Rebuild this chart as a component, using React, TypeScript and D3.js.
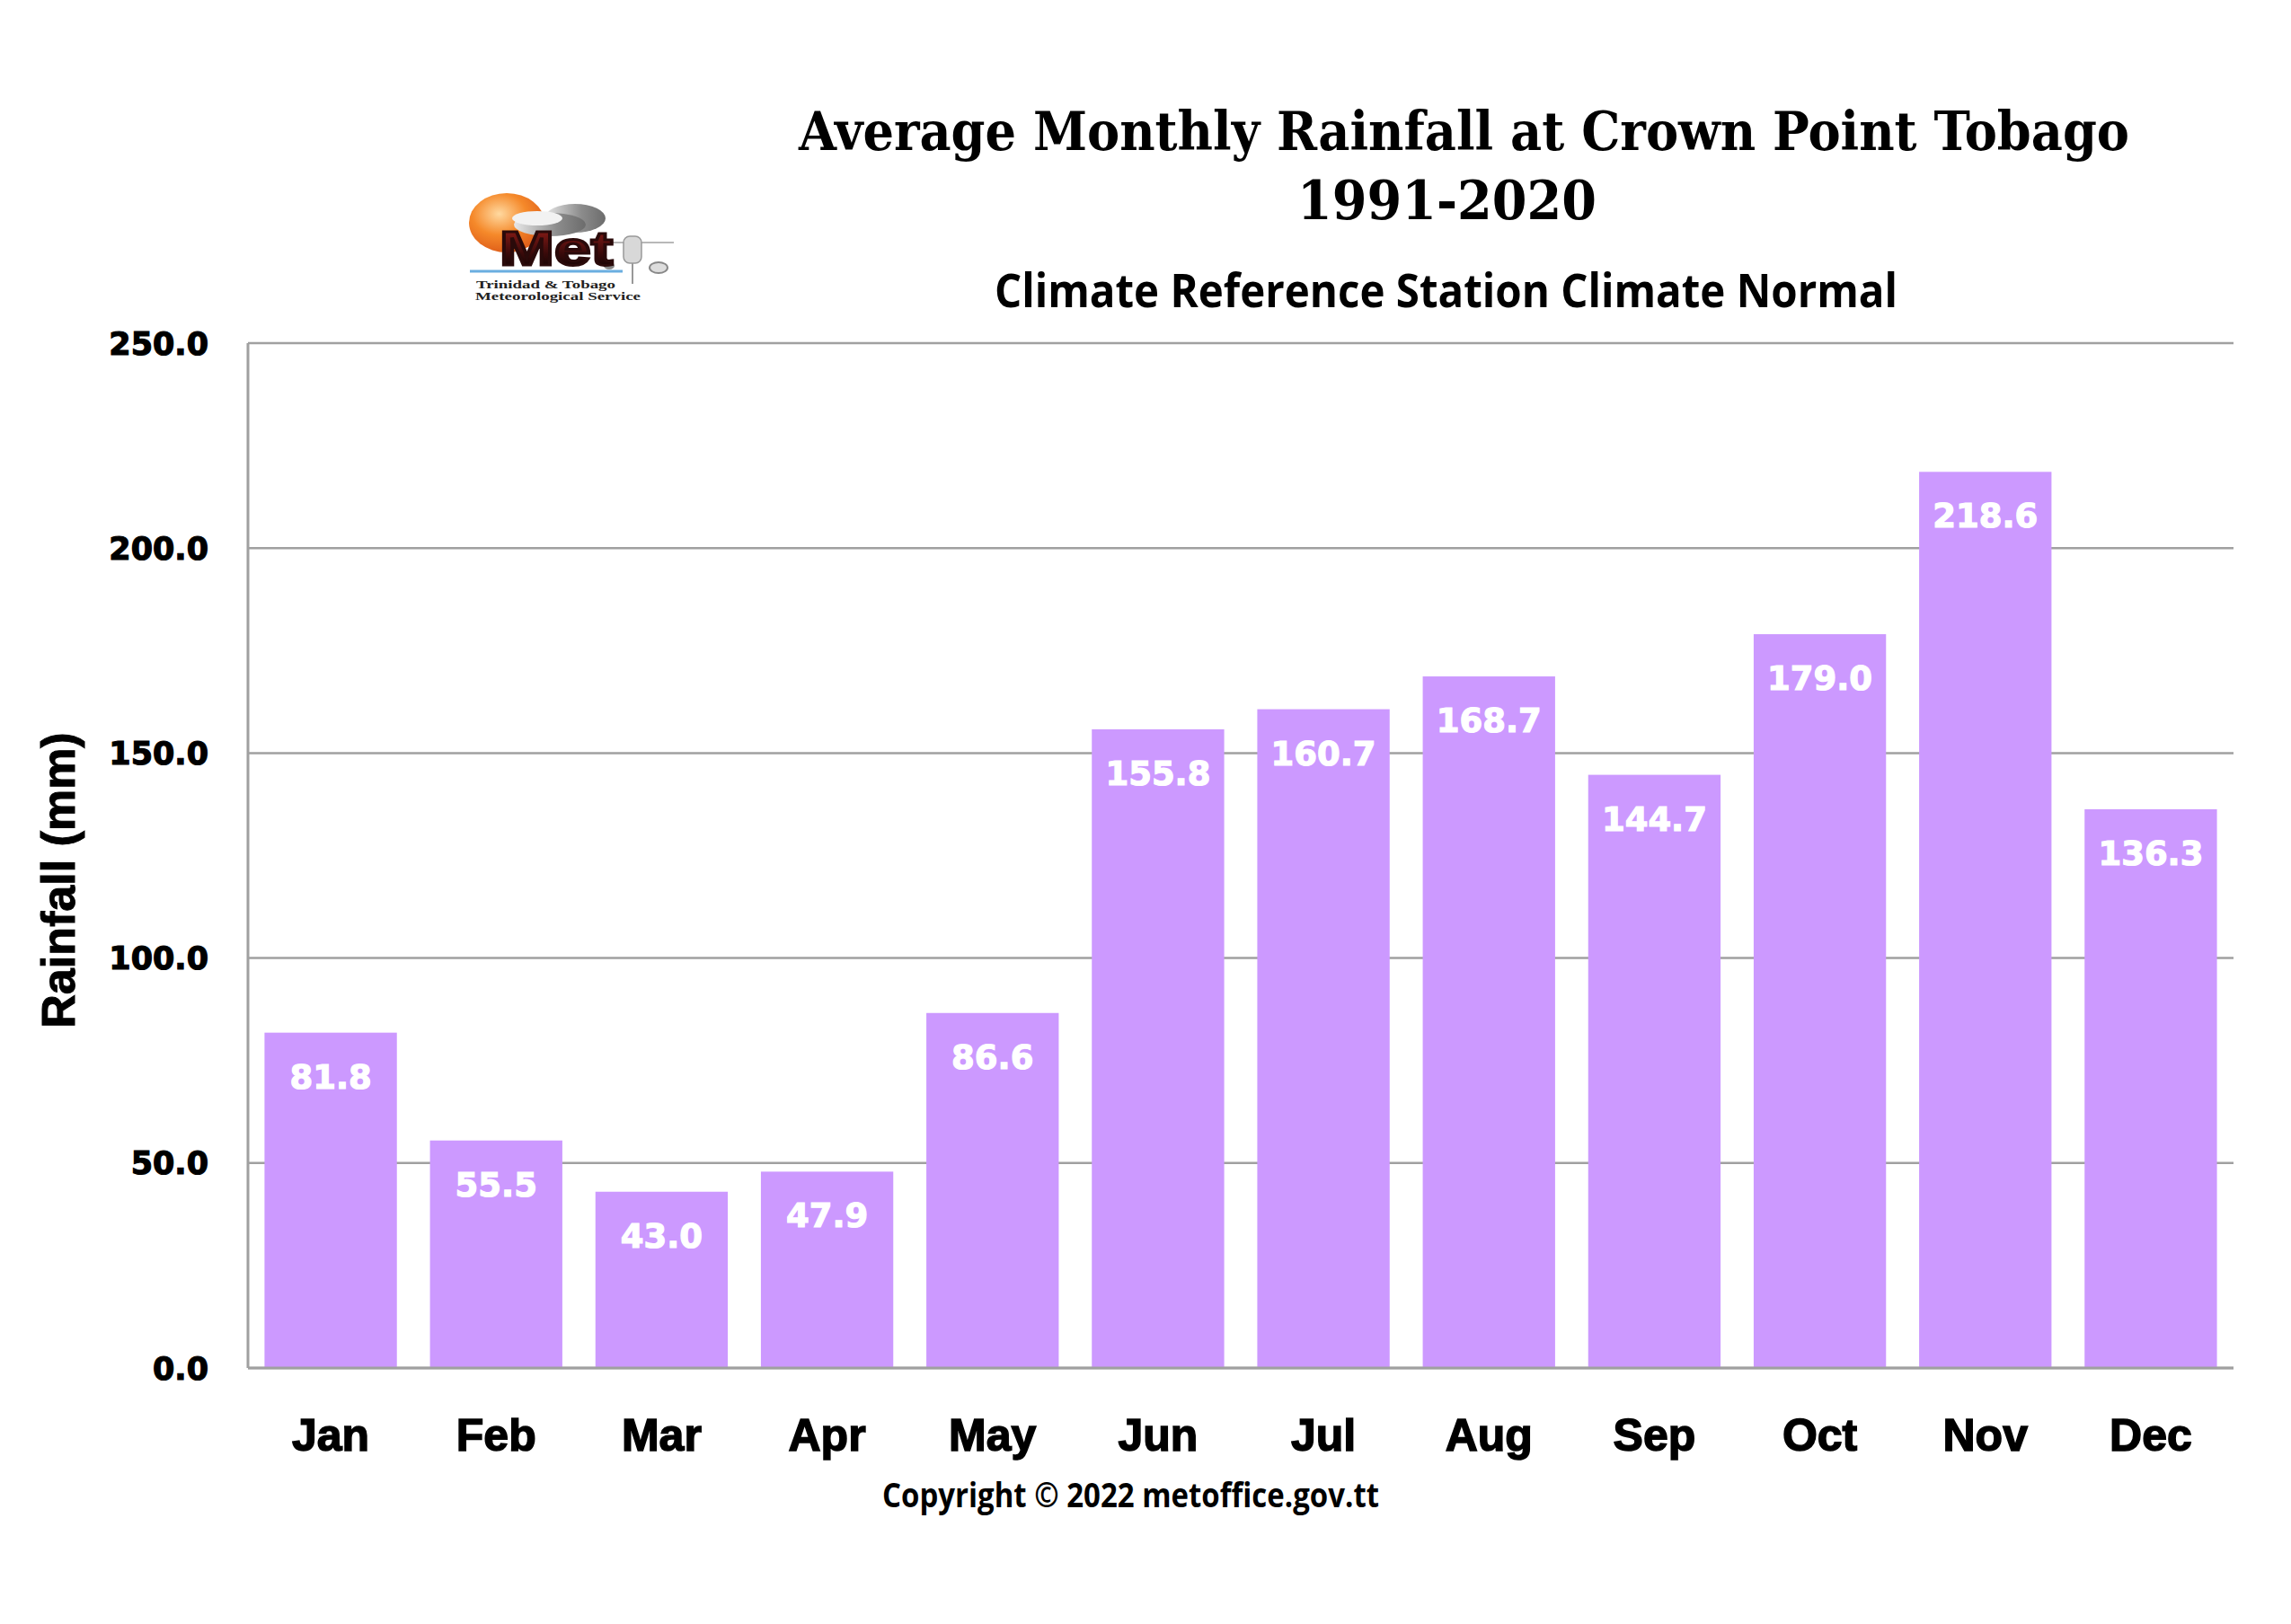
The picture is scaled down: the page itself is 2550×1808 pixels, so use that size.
import { useEffect, useRef } from 'react';
import * as d3 from 'd3';

const MONTHS = ['Jan', 'Feb', 'Mar', 'Apr', 'May', 'Jun', 'Jul', 'Aug', 'Sep', 'Oct', 'Nov', 'Dec'];
const RAINFALL = [81.8, 55.5, 43.0, 47.9, 86.6, 155.8, 160.7, 168.7, 144.7, 179.0, 218.6, 136.3];
const Y_TICKS = [0, 50, 100, 150, 200, 250];

const TITLE = 'Average Monthly Rainfall at Crown Point Tobago';
const PERIOD = '1991-2020';
const SUBTITLE = 'Climate Reference Station Climate  Normal';
const COPYRIGHT = 'Copyright \u00a9 2022 metoffice.gov.tt';

const BAR_COLOR = '#cc99ff';
const GRID_COLOR = '#a0a0a0';

export default function App() {
  const svgRef = useRef<SVGSVGElement>(null);

  useEffect(() => {
    if (!svgRef.current) return;

    const width = 2550;
    const height = 1808;
    const margin = { top: 382, right: 64, bottom: 285, left: 276 };
    const innerWidth = width - margin.left - margin.right;
    const innerHeight = height - margin.top - margin.bottom;

    const svg = d3.select(svgRef.current);
    svg.selectAll('*').remove();
    svg.attr('width', width).attr('height', height);

    svg.append('rect').attr('width', width).attr('height', height).attr('fill', '#ffffff');

    const x = d3.scaleBand()
      .domain(MONTHS)
      .range([0, innerWidth])
      .paddingInner(0.2)
      .paddingOuter(0.1);

    const y = d3.scaleLinear()
      .domain([0, 250])
      .range([innerHeight, 0]);

    const g = svg.append('g')
      .attr('transform', `translate(${margin.left}, ${margin.top})`);

    // Gridlines
    g.selectAll('.grid')
      .data(Y_TICKS)
      .enter()
      .append('line')
      .attr('x1', 0)
      .attr('x2', innerWidth)
      .attr('y1', d => y(d))
      .attr('y2', d => y(d))
      .attr('stroke', GRID_COLOR)
      .attr('stroke-width', 2.5);

    // Y axis line
    g.append('line')
      .attr('x1', 0)
      .attr('x2', 0)
      .attr('y1', 0)
      .attr('y2', innerHeight)
      .attr('stroke', GRID_COLOR)
      .attr('stroke-width', 3);

    // Y tick labels
    g.selectAll('.ytick')
      .data(Y_TICKS)
      .enter()
      .append('text')
      .attr('x', -44)
      .attr('y', d => y(d))
      .attr('dy', '0.36em')
      .attr('text-anchor', 'end')
      .attr('font-family', '"DejaVu Sans", sans-serif')
      .attr('font-weight', 'bold')
      .attr('font-size', '35px')
      .attr('fill', '#000')
      .attr('stroke', '#000')
      .attr('stroke-width', 1.2)
      .text(d => d.toFixed(1));

    const data = MONTHS.map((m, i) => ({ month: m, value: RAINFALL[i] }));

    // Bars
    g.selectAll('.bar')
      .data(data)
      .enter()
      .append('rect')
      .attr('x', d => x(d.month) || 0)
      .attr('y', d => y(d.value))
      .attr('width', x.bandwidth())
      .attr('height', d => innerHeight - y(d.value))
      .attr('fill', BAR_COLOR);

    // Bottom axis line (over bars)
    g.append('line')
      .attr('x1', 0)
      .attr('x2', innerWidth)
      .attr('y1', innerHeight)
      .attr('y2', innerHeight)
      .attr('stroke', GRID_COLOR)
      .attr('stroke-width', 3);

    // Value labels inside bars
    g.selectAll('.value')
      .data(data)
      .enter()
      .append('text')
      .attr('x', d => (x(d.month) || 0) + x.bandwidth() / 2)
      .attr('y', d => y(d.value) + 62)
      .attr('text-anchor', 'middle')
      .attr('font-family', '"DejaVu Sans", sans-serif')
      .attr('font-weight', 'bold')
      .attr('font-size', '37px')
      .attr('fill', '#ffffff')
      .attr('stroke', '#ffffff')
      .attr('stroke-width', 1.2)
      .text(d => d.value.toFixed(1));

    // Month labels
    g.selectAll('.month')
      .data(data)
      .enter()
      .append('text')
      .attr('x', d => (x(d.month) || 0) + x.bandwidth() / 2)
      .attr('y', innerHeight + 92)
      .attr('text-anchor', 'middle')
      .attr('font-family', '"Liberation Sans", Arial, sans-serif')
      .attr('font-weight', 'bold')
      .attr('font-size', '50px')
      .attr('fill', '#000')
      .attr('stroke', '#000')
      .attr('stroke-width', 1.5)
      .text(d => d.month);

    // Y axis title
    svg.append('text')
      .attr('transform', 'translate(83, 980) rotate(-90)')
      .attr('text-anchor', 'middle')
      .attr('font-family', '"Liberation Sans", Arial, sans-serif')
      .attr('font-weight', 'bold')
      .attr('font-size', '52px')
      .attr('fill', '#000')
      .attr('stroke', '#000')
      .attr('stroke-width', 1)
      .text('Rainfall (mm)');

    // Titles
    svg.append('text')
      .attr('x', 889)
      .attr('y', 167)
      .attr('textLength', 1481)
      .attr('lengthAdjust', 'spacingAndGlyphs')
      .attr('font-family', '"DejaVu Serif", serif')
      .attr('font-weight', 'bold')
      .attr('font-size', '60px')
      .attr('fill', '#000')
      .text(TITLE);

    svg.append('text')
      .attr('x', 1444)
      .attr('y', 244)
      .attr('textLength', 333)
      .attr('lengthAdjust', 'spacingAndGlyphs')
      .attr('font-family', '"DejaVu Serif", serif')
      .attr('font-weight', 'bold')
      .attr('font-size', '60px')
      .attr('fill', '#000')
      .text(PERIOD);

    svg.append('text')
      .attr('x', 1107)
      .attr('y', 342)
      .attr('textLength', 1005)
      .attr('lengthAdjust', 'spacingAndGlyphs')
      .attr('font-family', '"Open Sans", sans-serif')
      .attr('font-weight', 'bold')
      .attr('font-size', '52px')
      .attr('fill', '#000')
      .text(SUBTITLE);

    svg.append('text')
      .attr('x', 982)
      .attr('y', 1678)
      .attr('textLength', 553)
      .attr('lengthAdjust', 'spacingAndGlyphs')
      .attr('font-family', '"Open Sans", sans-serif')
      .attr('font-weight', 'bold')
      .attr('font-size', '38px')
      .attr('fill', '#000')
      .text(COPYRIGHT);

    // Met Service logo (approximate)
    const defs = svg.append('defs');
    const sun = defs.append('radialGradient').attr('id', 'sun').attr('cx', '40%').attr('cy', '35%').attr('r', '65%');
    sun.append('stop').attr('offset', '0%').attr('stop-color', '#ffd9a0');
    sun.append('stop').attr('offset', '55%').attr('stop-color', '#f5892a');
    sun.append('stop').attr('offset', '100%').attr('stop-color', '#e0601a');
    const cloud = defs.append('linearGradient').attr('id', 'cloud').attr('x1', '0').attr('x2', '1');
    cloud.append('stop').attr('offset', '0%').attr('stop-color', '#e8e8e8');
    cloud.append('stop').attr('offset', '60%').attr('stop-color', '#8c8c8c');
    cloud.append('stop').attr('offset', '100%').attr('stop-color', '#6c6c6c');
    const met = defs.append('linearGradient').attr('id', 'met').attr('x1', '0').attr('x2', '0').attr('y1', '0').attr('y2', '1');
    met.append('stop').attr('offset', '0%').attr('stop-color', '#a0201a');
    met.append('stop').attr('offset', '60%').attr('stop-color', '#3a0a0a');
    met.append('stop').attr('offset', '100%').attr('stop-color', '#000000');

    const logo = svg.append('g');
    logo.append('ellipse').attr('cx', 564).attr('cy', 248).attr('rx', 42).attr('ry', 33).attr('fill', 'url(#sun)');
    logo.append('ellipse').attr('cx', 640).attr('cy', 243).attr('rx', 34).attr('ry', 16).attr('fill', 'url(#cloud)');
    logo.append('ellipse').attr('cx', 612).attr('cy', 250).attr('rx', 40).attr('ry', 13).attr('fill', 'url(#cloud)');
    logo.append('ellipse').attr('cx', 598).attr('cy', 243).attr('rx', 28).attr('ry', 8).attr('fill', '#f2f2f2');
    logo.append('line').attr('x1', 680).attr('x2', 750).attr('y1', 270).attr('y2', 270).attr('stroke', '#b8b8b8').attr('stroke-width', 2);
    logo.append('rect').attr('x', 694).attr('y', 263).attr('width', 20).attr('height', 30).attr('rx', 7).attr('fill', '#d8d8d8').attr('stroke', '#999').attr('stroke-width', 1.5);
    logo.append('ellipse').attr('cx', 733).attr('cy', 298).attr('rx', 10).attr('ry', 6).attr('fill', '#ddd').attr('stroke', '#888').attr('stroke-width', 2);
    logo.append('ellipse').attr('cx', 678).attr('cy', 296).attr('rx', 6).attr('ry', 4).attr('fill', '#888');
    logo.append('line').attr('x1', 704).attr('x2', 704).attr('y1', 293).attr('y2', 316).attr('stroke', '#999').attr('stroke-width', 2);
    logo.append('text')
      .attr('x', 556)
      .attr('y', 295)
      .attr('textLength', 126)
      .attr('lengthAdjust', 'spacingAndGlyphs')
      .attr('font-family', '"Liberation Sans", Arial, sans-serif')
      .attr('font-weight', 'bold')
      .attr('font-size', '54px')
      .attr('fill', 'url(#met)')
      .attr('stroke', '#2a0a0a')
      .attr('stroke-width', 3)
      .text('Met');
    logo.append('line').attr('x1', 523).attr('x2', 693).attr('y1', 302).attr('y2', 302).attr('stroke', '#6aaee0').attr('stroke-width', 3);
    logo.append('text')
      .attr('x', 530)
      .attr('y', 321)
      .attr('textLength', 155)
      .attr('lengthAdjust', 'spacingAndGlyphs')
      .attr('font-family', '"Liberation Serif", serif')
      .attr('font-weight', 'bold')
      .attr('font-size', '13px')
      .attr('fill', '#222')
      .text('Trinidad & Tobago');
    logo.append('text')
      .attr('x', 529)
      .attr('y', 334)
      .attr('textLength', 184)
      .attr('lengthAdjust', 'spacingAndGlyphs')
      .attr('font-family', '"Liberation Serif", serif')
      .attr('font-weight', 'bold')
      .attr('font-size', '13px')
      .attr('fill', '#222')
      .text('Meteorological Service');
  }, []);

  return (
    <div style={{ position: 'absolute', left: 0, top: 0 }}>
      <svg ref={svgRef} style={{ display: 'block' }}></svg>
    </div>
  );
}
